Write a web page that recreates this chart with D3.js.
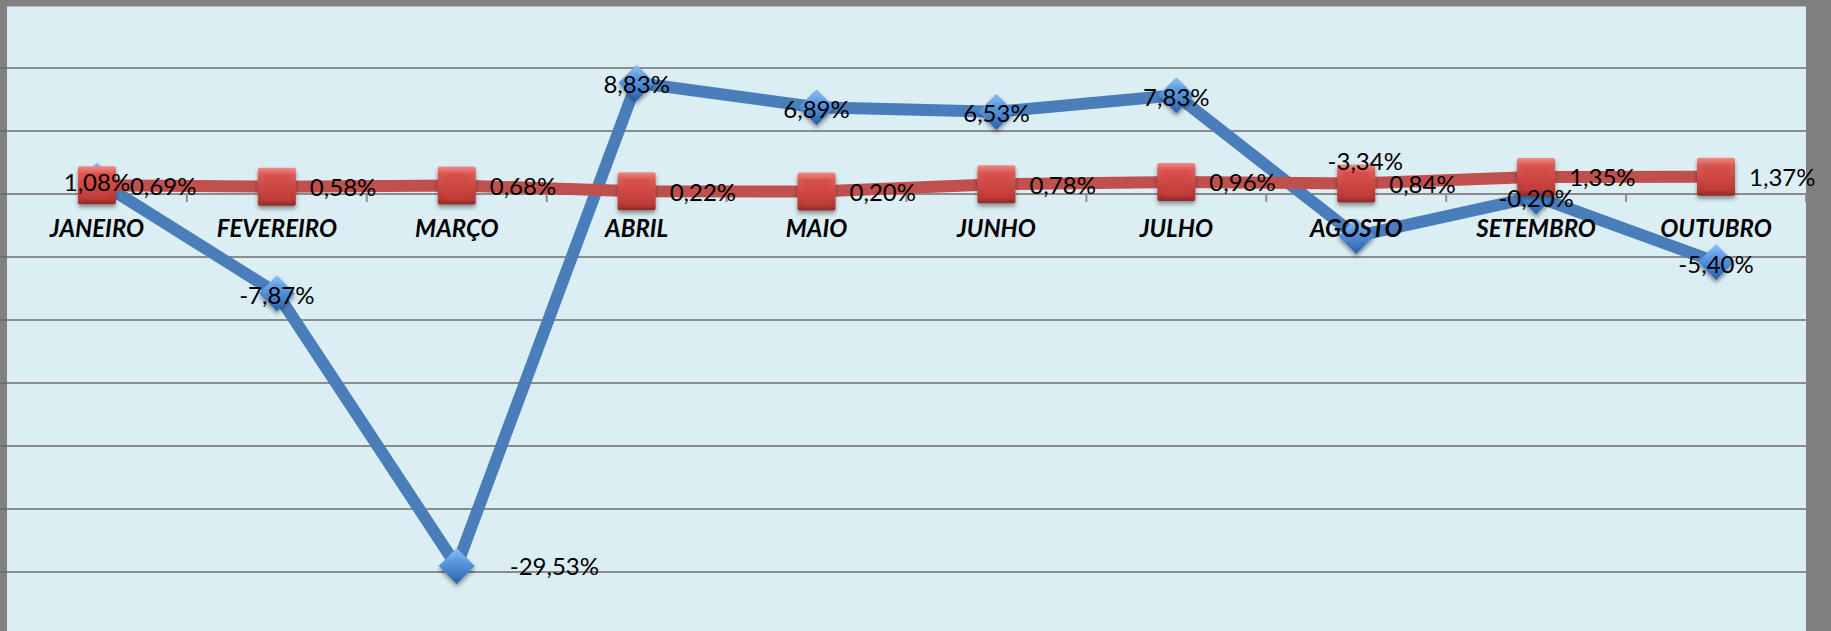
<!DOCTYPE html>
<html><head><meta charset="utf-8">
<script src="https://cdn.jsdelivr.net/npm/d3@7"></script>
<style>html,body{margin:0;padding:0;background:#808080;overflow:hidden}</style>
</head><body><svg id="c" width="1831" height="631"></svg>
<script>
// ---- data ----
const categories = ["JANEIRO","FEVEREIRO","MARÇO","ABRIL","MAIO","JUNHO","JULHO","AGOSTO","SETEMBRO","OUTUBRO"];
const seriesBlue = [1.08,-7.87,-29.53,8.83,6.89,6.53,7.83,-3.34,-0.20,-5.40];
const seriesRed  = [0.69,0.58,0.68,0.22,0.20,0.78,0.96,0.84,1.35,1.37];
const yTicks = [15,10,5,0,-5,-10,-15,-20,-25,-30];
const yDomain = [-35,15];

// ---- label placement (style) ----
const blueLabelPlace = ["center","center","right","center","center","center","center","moved","center","center"];

const W = 1831, H = 631;
const plot = {left:7, right:1806, top:6, bottom:631};
const svg = d3.select("#c");
const defs = svg.append("defs");

const loc = d3.formatLocale({decimal:",", thousands:".", grouping:[3], currency:["",""], minus:"-"});
const fmt = v => loc.format(".2f")(v) + "%";

const x = d3.scaleBand().domain(categories).range([plot.left, plot.right]).padding(0);
const y = d3.scaleLinear().domain(yDomain).range([635, 5]);
const cx = c => x(c) + x.bandwidth()/2;

// gradients & filters
function lg(id, stops){
  const g = defs.append("linearGradient").attr("id",id).attr("x1",0).attr("y1",0).attr("x2",0).attr("y2",1);
  stops.forEach(s=>g.append("stop").attr("offset",s[0]).attr("stop-color",s[1]));
}
lg("redOuter",[[0,"#ee8d89"],[0.18,"#dc5a56"],[0.85,"#b93935"],[1,"#8f2a28"]]);
lg("redFace",[[0,"#d9504c"],[1,"#c03c38"]]);
lg("blueOuter",[[0,"#8cc0f4"],[0.5,"#4f8fdb"],[1,"#2a5ea6"]]);
lg("blueFace",[[0,"#6aa6e8"],[1,"#3a74c0"]]);
const f = defs.append("filter").attr("id","sh").attr("x","-50%").attr("y","-50%").attr("width","200%").attr("height","200%");
f.append("feDropShadow").attr("dx",0).attr("dy",3).attr("stdDeviation",2.2).attr("flood-color","#000").attr("flood-opacity",0.4);

// background
svg.append("rect").attr("width",W).attr("height",H).attr("fill","#808080");
svg.append("rect").attr("x",plot.left).attr("y",plot.top).attr("width",plot.right-plot.left).attr("height",plot.bottom-plot.top).attr("fill","#dbeef4");
svg.append("line").attr("x1",plot.left).attr("x2",plot.right).attr("y1",plot.top+0.5).attr("y2",plot.top+0.5).attr("stroke","#b4bcc4").attr("stroke-width",1);

// gridlines
const grid = svg.append("g");
yTicks.filter(t=>t<15).forEach(t=>{
  grid.append("line").attr("x1",plot.left).attr("x2",plot.right).attr("y1",y(t)).attr("y2",y(t))
    .attr("stroke","#8c8c8c").attr("stroke-width",2);
  grid.append("line").attr("x1",0).attr("x2",plot.left).attr("y1",y(t)).attr("y2",y(t))
    .attr("stroke","#6e6e6e").attr("stroke-width",2);
});

// category axis ticks at zero
const axis = svg.append("g").attr("transform",`translate(0,${y(0)})`)
  .call(d3.axisBottom(x).tickSize(0).tickFormat(""));
axis.select(".domain").remove();
const bounds = categories.map(c=>x(c)).slice(1).concat([plot.right]);
svg.append("g").selectAll("line").data(bounds).join("line")
  .attr("x1",d=>d).attr("x2",d=>d).attr("y1",y(0)).attr("y2",y(0)+8)
  .attr("stroke","#8c8c8c").attr("stroke-width",2);

// lines
const line = d3.line().x((d,i)=>cx(categories[i])).y(d=>y(d));
svg.append("path").datum(seriesBlue).attr("d",line).attr("fill","none")
  .attr("stroke","#4a7ebb").attr("stroke-width",12).attr("stroke-linejoin","round");
svg.append("path").datum(seriesRed).attr("d",line).attr("fill","none")
  .attr("stroke","#c0504d").attr("stroke-width",12).attr("stroke-linejoin","round");

// blue diamonds
const dg = svg.append("g").selectAll("g").data(seriesBlue).join("g")
  .attr("transform",(d,i)=>`translate(${cx(categories[i])},${y(d)})`);
const R = 18, r = 11;
dg.append("path").attr("d",`M0,${-R}L${R},0L0,${R}L${-R},0Z`).attr("fill","url(#blueOuter)").attr("filter","url(#sh)");
dg.append("path").attr("d",`M0,${-r}L${r},0L0,${r}L${-r},0Z`).attr("fill","url(#blueFace)");

// red squares
const S = 38, s = 26;
const sg = svg.append("g").selectAll("g").data(seriesRed).join("g")
  .attr("transform",(d,i)=>`translate(${cx(categories[i])},${y(d)})`);
sg.append("rect").attr("x",-S/2).attr("y",-S/2).attr("width",S).attr("height",S).attr("rx",2)
  .attr("fill","url(#redOuter)").attr("filter","url(#sh)");
sg.append("rect").attr("x",-s/2).attr("y",-s/2+1).attr("width",s).attr("height",s)
  .attr("fill","url(#redFace)");

// category labels (drawn above series, as in the reference)
svg.append("g").selectAll("text").data(categories).join("text")
  .attr("x",d=>cx(d)).attr("y",y(0)+43).attr("text-anchor","middle")
  .attr("font-family","Lato").attr("font-weight",700).attr("font-style","italic")
  .attr("font-size",24).attr("fill","#000").text(d=>d);

// labels
const lab = svg.append("g").attr("font-family","Lato").attr("font-size",24).attr("fill","#000");
seriesRed.forEach((v,i)=>{
  lab.append("text").attr("x",cx(categories[i])+33).attr("y",y(v)+9.5).attr("text-anchor","start").text(fmt(v));
});
seriesBlue.forEach((v,i)=>{
  const p = blueLabelPlace[i];
  const t = lab.append("text").text(fmt(v));
  if(p==="right") t.attr("x",cx(categories[i])+53).attr("y",y(v)+8.5).attr("text-anchor","start");
  else if(p==="moved") t.attr("x",cx(categories[i])+9).attr("y",y(v)-66).attr("text-anchor","middle");
  else t.attr("x",cx(categories[i])).attr("y",y(v)+10.5).attr("text-anchor","middle");
});
</script></body></html>
